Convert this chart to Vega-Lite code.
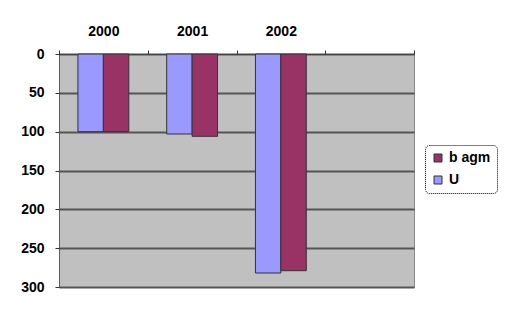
{
  "$schema": "https://vega.github.io/schema/vega-lite/v6.json",
  "width": 355,
  "height": 233,
  "autosize": "none",
  "padding": {"left": 59, "top": 54, "right": 94, "bottom": 29},
  "background": "white",
  "config": {
    "view": {"fill": "#c0c0c0", "stroke": "#888888", "strokeWidth": 1},
    "font": "Liberation Sans"
  },
  "data": {
    "values": [
      {"year": "2000", "series": "U", "value": 100},
      {"year": "2000", "series": "b agm", "value": 100},
      {"year": "2001", "series": "U", "value": 103},
      {"year": "2001", "series": "b agm", "value": 106},
      {"year": "2002", "series": "U", "value": 282},
      {"year": "2002", "series": "b agm", "value": 279}
    ]
  },
  "mark": {"type": "bar", "stroke": "#333333", "strokeWidth": 1},
  "encoding": {
    "x": {
      "field": "year",
      "type": "nominal",
      "scale": {"domain": ["2000", "2001", "2002", "2003"], "paddingInner": 0, "paddingOuter": 0},
      "axis": {
        "orient": "top",
        "title": null,
        "labelAngle": 0,
        "labelExpr": "datum.value == '2003' ? '' : datum.value",
        "labelFontSize": 14,
        "labelFontWeight": "bold",
        "labelColor": "black",
        "labelPadding": 12,
        "tickBand": "extent",
        "tickSize": 4,
        "tickColor": "#333333",
        "domainColor": "#333333",
        "domainDash": [1, 1],
        "grid": false
      }
    },
    "xOffset": {
      "field": "series",
      "type": "nominal",
      "scale": {"domain": ["U", "b agm"], "paddingInner": 0, "paddingOuter": 0.745}
    },
    "y": {
      "field": "value",
      "type": "quantitative",
      "scale": {"domain": [0, 300], "reverse": true, "nice": false},
      "axis": {
        "title": null,
        "values": [0, 50, 100, 150, 200, 250, 300],
        "labelFontSize": 14,
        "labelFontWeight": "bold",
        "labelColor": "black",
        "labelPadding": 11,
        "tickSize": 4,
        "tickColor": "#333333",
        "domainColor": "#333333",
        "domainDash": [1, 1],
        "grid": true,
        "gridColor": "#555555",
        "gridWidth": 2
      }
    },
    "color": {
      "field": "series",
      "type": "nominal",
      "scale": {"domain": ["b agm", "U"], "range": ["#993366", "#9999ff"]},
      "legend": {
        "title": null,
        "orient": "none",
        "legendX": 366,
        "legendY": 91,
        "symbolType": "square",
        "symbolSize": 64,
        "symbolStrokeColor": "#333333",
        "symbolStrokeWidth": 1,
        "labelFontSize": 14,
        "labelFontWeight": "bold",
        "labelColor": "black",
        "rowPadding": 8,
        "padding": 6,
        "strokeColor": "black",
        "cornerRadius": 4,
        "fillColor": "white",
        "encode": {"legend": {"update": {"strokeDash": {"value": [1, 1]}}}}
      }
    }
  }
}
